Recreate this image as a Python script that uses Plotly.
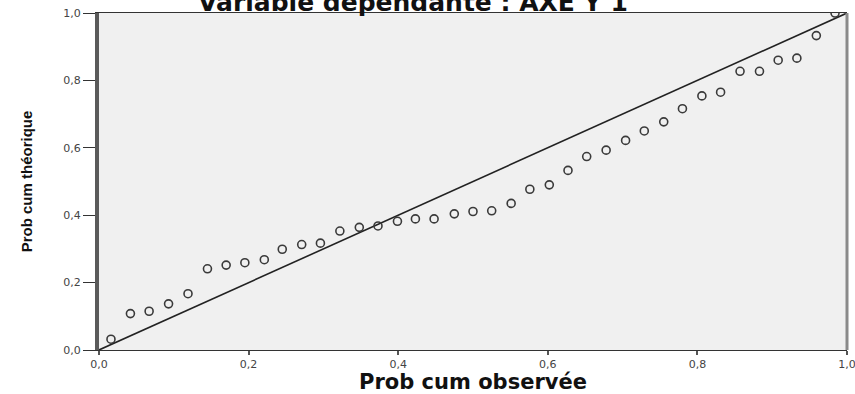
import plotly.graph_objects as go

# ---- data ----
prob_cum_observee = [0.016, 0.042, 0.067, 0.093, 0.119, 0.145, 0.170, 0.195, 0.221, 0.245,
                     0.271, 0.296, 0.322, 0.348, 0.373, 0.399, 0.423, 0.448, 0.475, 0.500,
                     0.525, 0.551, 0.576, 0.602, 0.627, 0.652, 0.678, 0.704, 0.729, 0.755,
                     0.780, 0.806, 0.831, 0.857, 0.883, 0.908, 0.933, 0.959, 0.984]
prob_cum_theorique = [0.032, 0.108, 0.115, 0.137, 0.167, 0.241, 0.252, 0.259, 0.268, 0.299,
                      0.313, 0.317, 0.353, 0.364, 0.368, 0.382, 0.389, 0.389, 0.404, 0.411,
                      0.413, 0.435, 0.477, 0.490, 0.533, 0.574, 0.593, 0.622, 0.650, 0.677,
                      0.716, 0.754, 0.765, 0.827, 0.827, 0.860, 0.866, 0.933, 1.000]
diag_x = [0.0, 1.0]
diag_y = [0.0, 1.0]
tick_vals = [0.0, 0.2, 0.4, 0.6, 0.8, 1.0]
tick_text = ["0,0", "0,2", "0,4", "0,6", "0,8", "1,0"]

title_text = "Variable dépendante : AXE Y 1"
x_title = "Prob cum observée"
y_title = "Prob cum théorique"

fig = go.Figure()
fig.add_trace(go.Scatter(
    x=diag_x, y=diag_y, mode="lines",
    line=dict(color="#222222", width=1.6),
    hoverinfo="skip", showlegend=False,
))
fig.add_trace(go.Scatter(
    x=prob_cum_observee, y=prob_cum_theorique, mode="markers",
    marker=dict(symbol="circle-open", size=8, color="#3a3a3a", line=dict(width=1.6, color="#3a3a3a")),
    showlegend=False,
))

tick_font = dict(family="DejaVu Sans, Liberation Sans, Arial", size=11, color="#444444")

fig.update_layout(
    width=855, height=394,
    margin=dict(l=99, r=8, t=13, b=44),
    paper_bgcolor="white",
    plot_bgcolor="#F0F0F0",
    title=dict(
        text=title_text, x=0.483, xanchor="center", y=0.995, yanchor="middle",
        yref="container",
        font=dict(family="DejaVu Sans, Arial", size=25, color="#111111", weight="bold"),
    ),
    xaxis=dict(
        range=[0, 1], tickvals=tick_vals, ticktext=tick_text,
        showgrid=False, zeroline=False,
        showline=True, linewidth=1.3, linecolor="#333333", mirror=True,
        ticks="outside", ticklen=4, tickwidth=2, tickcolor="#555555",
        tickfont=tick_font, ticklabeloverflow="allow", automargin=False,
        title=dict(text=x_title, standoff=9,
                   font=dict(family="DejaVu Sans, Arial", size=21, color="#111111", weight="bold")),
    ),
    yaxis=dict(
        range=[0, 1], tickvals=tick_vals, ticktext=tick_text,
        showgrid=False, zeroline=False,
        showline=True, linewidth=4, linecolor="#5a5a5a",
        ticks="outside", ticklen=12, tickwidth=1.3, tickcolor="#333333",
        tickfont=tick_font, ticklabeloverflow="allow", automargin=False,
        title=dict(text=y_title, standoff=28,
                   font=dict(family="Liberation Sans, Arial, sans-serif",
                             size=15, color="#111111", weight="bold")),
    ),
    shapes=[dict(type="line", xref="paper", yref="paper", x0=1, x1=1, y0=0, y1=1,
                 line=dict(color="#8a8a8a", width=3))],
)

fig.write_html(
    "out.html", config={"displayModeBar": False},
    post_script="document.documentElement.style.overflow='hidden';"
                "document.body.style.overflow='hidden';document.body.style.margin='0';",
)
